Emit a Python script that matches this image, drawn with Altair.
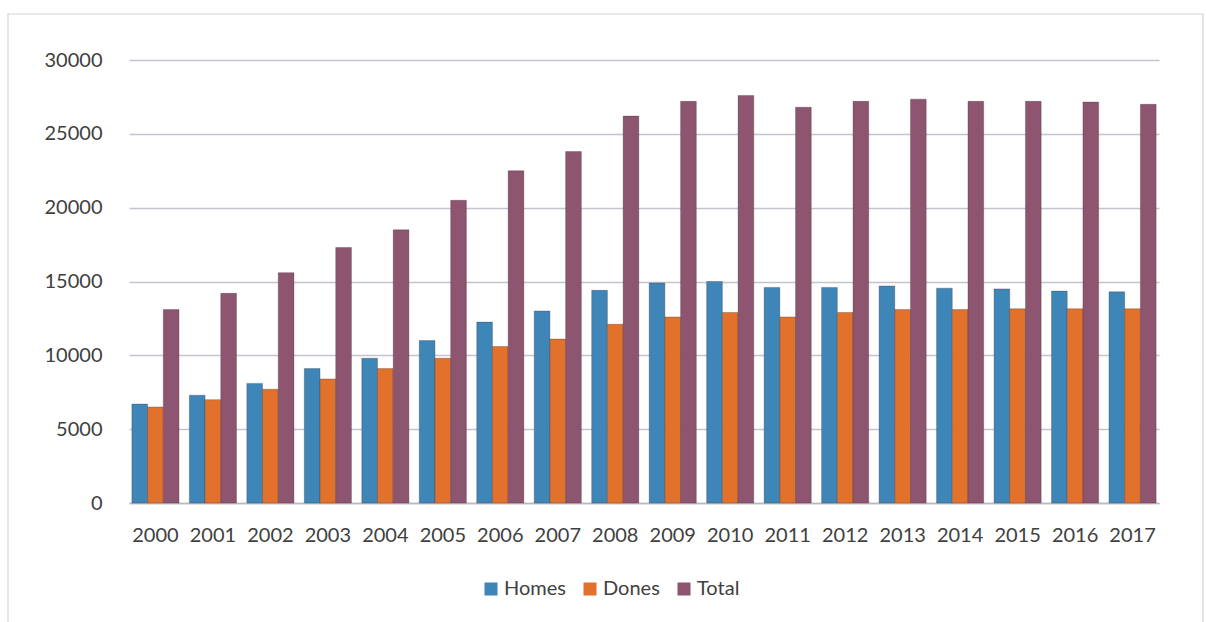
import altair as alt
import pandas as pd

years = [str(y) for y in range(2000, 2018)]
homes = [6700, 7300, 8100, 9100, 9800, 11000, 12250, 13000, 14400, 14900,
         15000, 14600, 14600, 14700, 14550, 14500, 14350, 14300]
dones = [6500, 7000, 7700, 8400, 9100, 9800, 10600, 11100, 12100, 12600,
         12900, 12600, 12900, 13100, 13100, 13150, 13150, 13150]
total = [13100, 14200, 15600, 17300, 18500, 20500, 22500, 23800, 26200, 27200,
         27600, 26800, 27200, 27350, 27200, 27200, 27150, 27000]
series = ["Homes", "Dones", "Total"]
colors = ["#3f86b8", "#e2712c", "#8e5570"]

rows = []
for i, y in enumerate(years):
    for s, vals in zip(series, [homes, dones, total]):
        rows.append({"Year": y, "Series": s, "Value": vals[i]})
df = pd.DataFrame(rows)

FONT = "Lato"

bars = alt.Chart(df).mark_bar(stroke="#3a2a30", strokeWidth=0.6, strokeOpacity=0.5).encode(
    x=alt.X("Year:N", sort=years, title=None,
            scale=alt.Scale(paddingInner=0.18, paddingOuter=0.05),
            axis=alt.Axis(labelAngle=0, labelFontSize=20, labelColor="#404040",
                          labelFont=FONT, labelPadding=22, ticks=False,
                          domainColor="#b8b8c4", domainWidth=1.5, grid=False)),
    xOffset=alt.XOffset("Series:N", sort=series),
    y=alt.Y("Value:Q", title=None,
            scale=alt.Scale(domain=[0, 30000]),
            axis=alt.Axis(values=[0, 5000, 10000, 15000, 20000, 25000, 30000],
                          format="d", labelFontSize=20, labelColor="#404040",
                          labelFont=FONT, labelPadding=27, ticks=False,
                          domain=False, gridColor="#c4c4d0", gridWidth=1.5)),
    color=alt.Color("Series:N", sort=series,
                    scale=alt.Scale(domain=series, range=colors),
                    legend=alt.Legend(title=None, orient="none", direction="horizontal",
                                      legendX=352, legendY=519,
                                      labelFontSize=20, labelFont=FONT,
                                      labelColor="#404040", symbolType="square",
                                      symbolSize=170, symbolStrokeWidth=0,
                                      columnPadding=14, labelOffset=3)),
)

frame = alt.Chart(alt.Data(values=[{}])).mark_rect(
    fill=None, stroke="#d4d4d8", strokeWidth=1.2
).encode(
    x=alt.value(-121), x2=alt.value(1074),
    y=alt.value(-46), y2=alt.value(620),
)

chart = alt.layer(frame, bars).properties(
    width=1030, height=443,
    autosize=alt.AutoSizeParams(type="none"),
    padding={"left": 129, "top": 60, "right": 47, "bottom": 119},
    background="white",
).configure_view(stroke=None)

chart.save("out.html", embed_options={"renderer": "svg", "actions": False})
